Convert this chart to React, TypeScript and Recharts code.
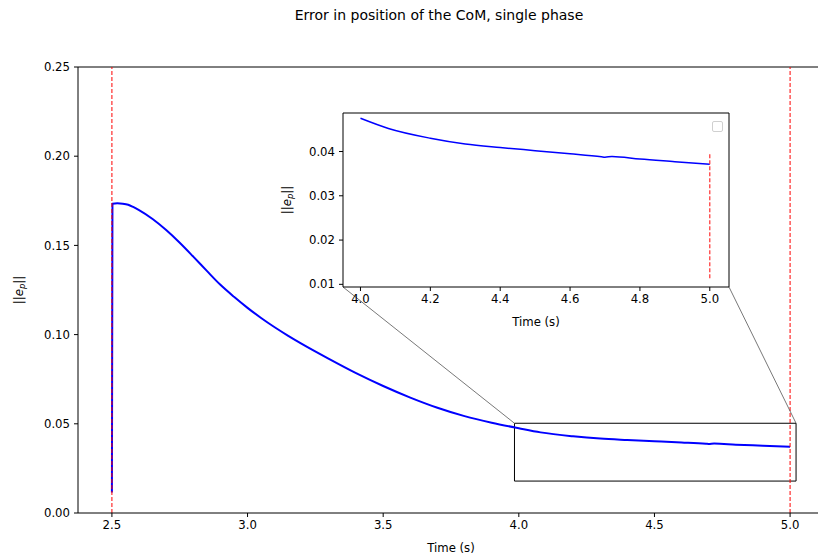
import React from "react";
import {
  CartesianGrid,
  Line,
  LineChart,
  ReferenceArea,
  ReferenceLine,
  XAxis,
  YAxis,
} from "recharts";

// CoM position error, single phase
const time = [
  2.5, 2.502, 2.52, 2.54, 2.56, 2.58, 2.6, 2.65, 2.7, 2.75, 2.8, 2.85, 2.9, 2.95,
  3.0, 3.05, 3.1, 3.15, 3.2, 3.3, 3.4, 3.5, 3.6, 3.7, 3.8, 3.9, 4.0, 4.08, 4.2,
  4.3, 4.4, 4.5, 4.6, 4.69, 4.7, 4.72, 4.8, 4.9, 5.0,
];
const errP = [
  0.0115, 0.1733, 0.1736, 0.1734, 0.1728, 0.1714, 0.1698, 0.1648, 0.1586, 0.1515,
  0.1437, 0.1357, 0.1279, 0.1212, 0.115, 0.1093, 0.1041, 0.0993, 0.0948, 0.0864,
  0.0784, 0.0712, 0.0647, 0.059, 0.0543, 0.0506, 0.0475, 0.0452, 0.043, 0.0417,
  0.0409, 0.0402, 0.0395, 0.0388, 0.0387, 0.0389, 0.0383, 0.0377, 0.0371,
];
const switchTimes = [2.5, 5.0];

const mainXTicks = [2.5, 3.0, 3.5, 4.0, 4.5, 5.0];
const mainYTicks = [0, 0.05, 0.1, 0.15, 0.2, 0.25];
const insetXTicks = [4.0, 4.2, 4.4, 4.6, 4.8, 5.0];
const insetYTicks = [0.01, 0.02, 0.03, 0.04];

const insetStart = 4.0;
const zoomBox = { x1: 3.984, x2: 5.022, y1: 0.0179, y2: 0.0503 };
const insetMarker = { y1: 0.0114, y2: 0.0395 };

// layout (px)
const FONT = "'DejaVu Sans', sans-serif";
const MAIN = { left: 78, top: 67, right: 824, bottom: 513, w: 830, h: 558 };
const MAIN_X: [number, number] = [2.375, 5.125];
const MAIN_Y: [number, number] = [0, 0.25];
const INSET = { left: 343, top: 113, right: 729, bottom: 287 };
const INSET_X: [number, number] = [3.95, 5.055];
const INSET_Y: [number, number] = [0.0094, 0.0487];

const rows = time.map((t, i) => ({ t, e: errP[i] }));
const insetRows = rows.filter((r) => r.t >= insetStart);

// inset corners expressed in main data coordinates
const toMainX = (px: number) =>
  MAIN_X[0] + ((px - MAIN.left) / (MAIN.right - MAIN.left)) * (MAIN_X[1] - MAIN_X[0]);
const toMainY = (py: number) =>
  MAIN_Y[0] + ((MAIN.bottom - py) / (MAIN.bottom - MAIN.top)) * (MAIN_Y[1] - MAIN_Y[0]);

const tickStyle = { fontSize: 11.7, fill: "#000", fontFamily: FONT };

function NormLabel({ x, y }: { x: number; y: number }) {
  return (
    <text
      x={x}
      y={y}
      transform={`rotate(-90, ${x}, ${y})`}
      textAnchor="middle"
      dominantBaseline="central"
      fontFamily={FONT}
      fontSize={11.7}
      fill="#000"
    >
      <tspan>||</tspan>
      <tspan fontStyle="italic">e</tspan>
      <tspan fontStyle="italic" fontSize={8.5} dy={3}>p</tspan>
      <tspan dy={-3}>||</tspan>
    </text>
  );
}

const timeLabel = (props: any) => {
  const vb = props.viewBox;
  return (
    <text
      x={vb.x + vb.width / 2}
      y={vb.y + 35}
      textAnchor="middle"
      dominantBaseline="central"
      fontFamily={FONT}
      fontSize={11.7}
      fill="#000"
    >
      Time (s)
    </text>
  );
};

function MainChart() {
  return (
    <LineChart
      width={MAIN.w}
      height={MAIN.h}
      data={rows}
      margin={{ top: MAIN.top, left: 0, bottom: 0, right: MAIN.w - MAIN.right }}
    >
      <XAxis
        dataKey="t"
        type="number"
        domain={MAIN_X}
        ticks={mainXTicks}
        tickFormatter={(v) => v.toFixed(1)}
        height={MAIN.h - MAIN.bottom}
        stroke="#000"
        tick={tickStyle}
        tickSize={4}
        tickMargin={4}
        allowDataOverflow
        label={timeLabel}
      />
      <YAxis
        type="number"
        domain={MAIN_Y}
        ticks={mainYTicks}
        tickFormatter={(v) => v.toFixed(2)}
        width={MAIN.left}
        stroke="#000"
        tick={tickStyle}
        tickSize={4}
        tickMargin={4}
        label={(p: any) => <NormLabel x={p.viewBox.x + 19} y={p.viewBox.y + p.viewBox.height / 2} />}
      />
      <ReferenceLine y={MAIN_Y[1]} stroke="#000" strokeWidth={1} />
      <ReferenceLine x={MAIN_X[1]} stroke="#000" strokeWidth={1} />
      <Line
        dataKey="e"
        type="monotone"
        stroke="#0000ff"
        strokeWidth={2}
        dot={false}
        isAnimationActive={false}
      />
      {switchTimes.map((s) => (
        <ReferenceLine key={s} x={s} stroke="#ff0000" strokeWidth={1} strokeDasharray="4 2" />
      ))}
      <ReferenceArea
        x1={zoomBox.x1}
        x2={zoomBox.x2}
        y1={zoomBox.y1}
        y2={zoomBox.y2}
        fill="none"
        stroke="#000"
        strokeWidth={1}
      />
      <ReferenceLine
        segment={[
          { x: zoomBox.x1, y: zoomBox.y2 },
          { x: toMainX(INSET.left), y: toMainY(INSET.bottom) },
        ]}
        stroke="#555"
        strokeWidth={0.8}
      />
      <ReferenceLine
        segment={[
          { x: zoomBox.x2, y: zoomBox.y2 },
          { x: toMainX(INSET.right), y: toMainY(INSET.bottom) },
        ]}
        stroke="#555"
        strokeWidth={0.8}
      />
    </LineChart>
  );
}

function InsetChart() {
  const boxLeft = 270;
  const boxTop = 105;
  const w = 470;
  const h = 230;
  return (
    <div style={{ position: "absolute", left: boxLeft, top: boxTop }}>
      <LineChart
        width={w}
        height={h}
        data={insetRows}
        margin={{
          top: INSET.top - boxTop,
          left: 0,
          bottom: 0,
          right: w - (INSET.right - boxLeft),
        }}
      >
        <CartesianGrid fill="#fff" horizontal={false} vertical={false} />
        <XAxis
          dataKey="t"
          type="number"
          domain={INSET_X}
          ticks={insetXTicks}
          tickFormatter={(v) => v.toFixed(1)}
          height={h - (INSET.bottom - boxTop)}
          stroke="#000"
          tick={tickStyle}
          tickSize={4}
          tickMargin={4}
          allowDataOverflow
          label={timeLabel}
        />
        <YAxis
          type="number"
          domain={INSET_Y}
          ticks={insetYTicks}
          tickFormatter={(v) => v.toFixed(2)}
          width={INSET.left - boxLeft}
          stroke="#000"
          tick={tickStyle}
          tickSize={4}
          tickMargin={4}
          allowDataOverflow
          label={(p: any) => <NormLabel x={p.viewBox.x + 17} y={p.viewBox.y + p.viewBox.height / 2} />}
        />
        <ReferenceLine y={INSET_Y[1]} stroke="#000" strokeWidth={1} />
        <ReferenceLine x={INSET_X[1]} stroke="#000" strokeWidth={1} />
        <Line
          dataKey="e"
          type="monotone"
          stroke="#0000ff"
          strokeWidth={1.5}
          dot={false}
          isAnimationActive={false}
        />
        <ReferenceLine
          segment={[
            { x: switchTimes[1], y: insetMarker.y1 },
            { x: switchTimes[1], y: insetMarker.y2 },
          ]}
          stroke="#ff3030"
          strokeWidth={1.2}
          strokeDasharray="4 2"
        />
      </LineChart>
      {/* empty legend box */}
      <div
        style={{
          position: "absolute",
          left: 712 - boxLeft,
          top: 121 - boxTop,
          width: 9,
          height: 9,
          border: "1px solid #d0d0d0",
          borderRadius: 2,
          background: "#fff",
        }}
      />
    </div>
  );
}

export default function App() {
  return (
    <div
      style={{
        position: "absolute",
        left: 0,
        top: 0,
        width: 818,
        height: 558,
        overflow: "hidden",
        background: "#fff",
        fontFamily: FONT,
      }}
    >
      <div
        style={{
          position: "absolute",
          left: 0,
          width: 878,
          top: 7,
          textAlign: "center",
          fontSize: 14,
          color: "#000",
        }}
      >
        Error in position of the CoM, single phase
      </div>
      <div style={{ position: "absolute", left: 0, top: 0 }}>
        <MainChart />
      </div>
      <InsetChart />
    </div>
  );
}
